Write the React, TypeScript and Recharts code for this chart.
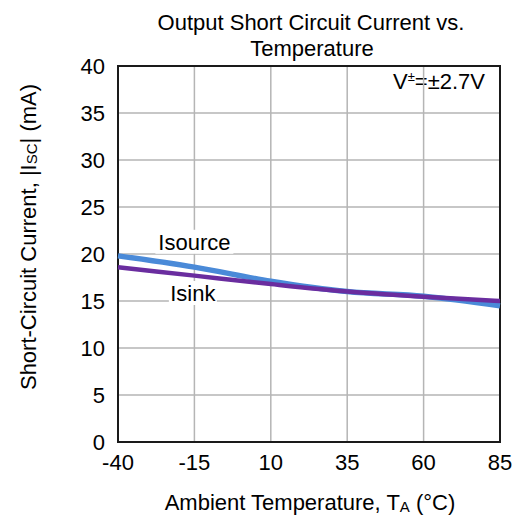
import { LineChart, Line, XAxis, YAxis, CartesianGrid, ReferenceArea, ReferenceDot } from 'recharts';

const temps = [-40, -15, 10, 35, 60, 85];
const isource = [19.8, 18.6, 17.1, 16.0, 15.5, 14.5];
const isink = [18.6, 17.7, 16.8, 16.0, 15.45, 15.0];
const xTicks = [-40, -15, 10, 35, 60, 85];
const yTicks = [0, 5, 10, 15, 20, 25, 30, 35, 40];

const data = temps.map((t, i) => ({ t, isource: isource[i], isink: isink[i] }));

const FONT = 'Liberation Sans, Arial, sans-serif';

const SeriesLabel = (props: any) => {
  const { cx, cy, text, w } = props;
  return (
    <g>
      <rect x={cx - w / 2} y={cy - 12} width={w} height={24} fill="#fff" />
      <text x={cx} y={cy + 8} textAnchor="middle" fontSize={22} fontFamily={FONT} fill="#000">
        {text}
      </text>
    </g>
  );
};

const YLabel = (props: any) => {
  const { viewBox } = props;
  const cx = 28;
  const cy = viewBox.y + viewBox.height / 2 - 17;
  return (
    <text
      x={cx}
      y={cy}
      transform={`rotate(-90 ${cx} ${cy})`}
      textAnchor="middle"
      dominantBaseline="central"
      fontSize={22}
      fontFamily={FONT}
      fill="#000"
    >
      Short-Circuit Current, |I<tspan fontSize={15} dy={3}>SC</tspan>
      <tspan dy={-3}>| (mA)</tspan>
    </text>
  );
};

const XLabel = (props: any) => {
  const { viewBox } = props;
  const cx = viewBox.x + viewBox.width / 2 + 1;
  return (
    <text x={cx} y={510} textAnchor="middle" fontSize={22} fontFamily={FONT} fill="#000">
      Ambient Temperature, T<tspan fontSize={15} dy={2}>A</tspan>
      <tspan dy={-2}> (°C)</tspan>
    </text>
  );
};

export default function App() {
  return (
    <div style={{ position: 'absolute', left: 0, top: 0, width: 517, height: 517, background: '#fff', fontFamily: FONT }}>
      <div style={{ position: 'absolute', left: 0, top: 10, width: 622, textAlign: 'center', fontSize: 22, lineHeight: '25px' }}>
        Output Short Circuit Current vs.
      </div>
      <div style={{ position: 'absolute', left: 0, top: 36, width: 624, textAlign: 'center', fontSize: 22, lineHeight: '25px' }}>
        Temperature
      </div>
      <div style={{ position: 'absolute', left: 393, top: 69, fontSize: 22, lineHeight: '25px' }}>
        V<span style={{ fontSize: 13, position: 'relative', top: -8 }}>±</span>=±2.7V
      </div>
      <LineChart
        width={517}
        height={517}
        data={data}
        margin={{ top: 66, right: 17, left: 0, bottom: 0 }}
        style={{ position: 'absolute', left: 0, top: 0 }}
      >
        <CartesianGrid stroke="#b5b5b5" strokeWidth={1.5} />
        <XAxis
          dataKey="t"
          type="number"
          domain={[-40, 85]}
          ticks={xTicks}
          axisLine={false}
          tickLine={false}
          tickSize={0}
          tickMargin={12}
          height={75}
          tick={{ fontSize: 22, fill: '#000', fontFamily: FONT }}
          label={<XLabel />}
        />
        <YAxis
          type="number"
          domain={[0, 40]}
          ticks={yTicks}
          axisLine={false}
          tickLine={false}
          tickSize={0}
          tickMargin={13}
          width={118}
          tick={{ fontSize: 22, fill: '#000', fontFamily: FONT }}
          label={<YLabel />}
        />
        <Line
          type="monotone"
          dataKey="isource"
          stroke="#4a8ad8"
          strokeWidth={5.5}
          dot={false}
          isAnimationActive={false}
        />
        <Line
          type="monotone"
          dataKey="isink"
          stroke="#6a2d9f"
          strokeWidth={4.5}
          dot={false}
          isAnimationActive={false}
        />
        <ReferenceArea x1={-40} x2={85} y1={0} y2={40} fill="none" stroke="#1a1a1a" strokeWidth={2} />
        <ReferenceDot x={-15} y={21.3} r={0} shape={(p: any) => <SeriesLabel {...p} text="Isource" w={78} />} />
        <ReferenceDot x={-15.5} y={15.85} r={0} shape={(p: any) => <SeriesLabel {...p} text="Isink" w={48} />} />
      </LineChart>
    </div>
  );
}
